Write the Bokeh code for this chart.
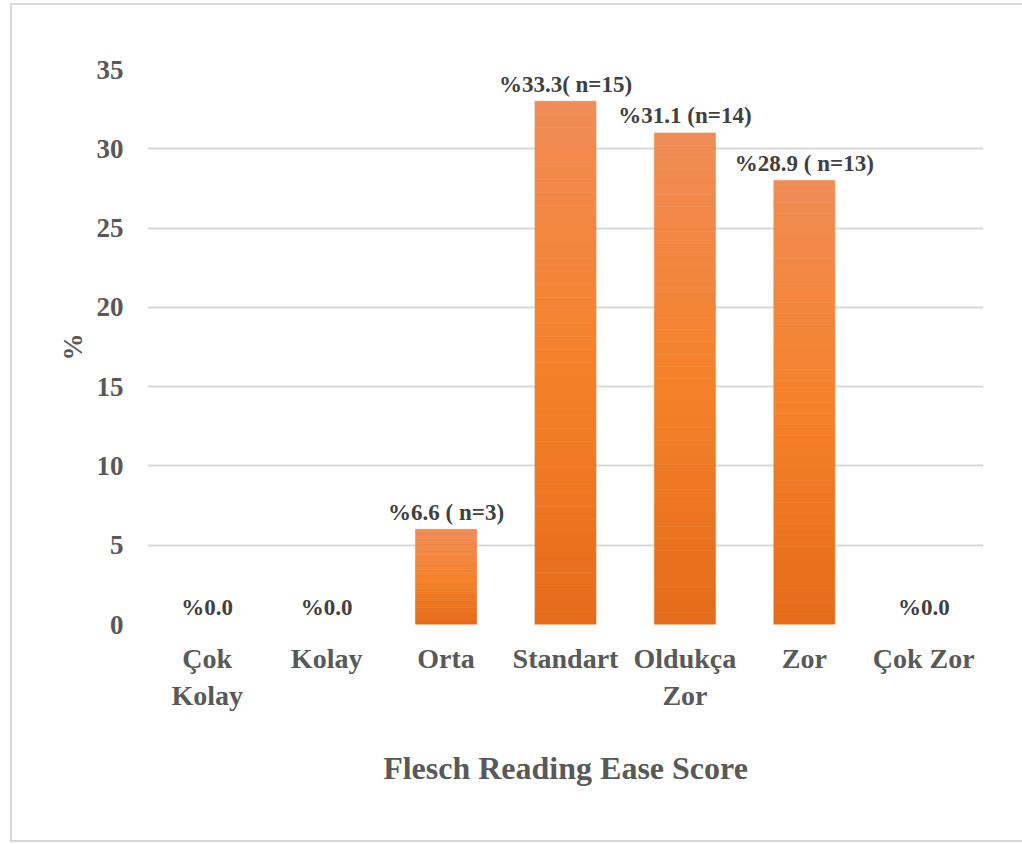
import numpy as np
from bokeh.plotting import figure
from bokeh.models import Range1d, FixedTicker, ColumnDataSource
from bokeh.core.properties import value
from bokeh.embed import file_html
from bokeh.resources import INLINE

categories = ["Çok Kolay", "Kolay", "Orta", "Standart", "Oldukça Zor", "Zor", "Çok Zor"]
tick_labels = ["Çok\nKolay", "Kolay", "Orta", "Standart", "Oldukça\nZor", "Zor", "Çok Zor"]
percent_values = [0, 0, 6, 33, 31, 28, 0]
bar_labels = ["%0.0", "%0.0", "%6.6 ( n=3)", "%33.3( n=15)", "%31.1 (n=14)", "%28.9 ( n=13)", "%0.0"]
y_ticks = [0, 5, 10, 15, 20, 25, 30, 35]

FONT = "Liberation Serif"
x_pos = list(range(len(categories)))

p = figure(width=1012, height=839, output_backend="svg", toolbar_location=None,
           x_range=Range1d(-0.5, len(categories) - 0.5), y_range=Range1d(0, 35),
           min_border_left=135, min_border_right=41, min_border_top=64, min_border_bottom=220,
           outline_line_color=None, background_fill_color="white", border_fill_color="white")
p.margin = (3, 0, 0, 10)
p.styles = {"border-left": "2px solid #D9D9D9", "border-top": "2px solid #D9D9D9",
            "border-bottom": "2px solid #D9D9D9", "box-sizing": "border-box"}

# gradient bars built from slices of each value
n_slices = 40
fr = np.linspace(0, 1, n_slices + 1)
c_top = np.array([0xF0, 0x8C, 0x56])
c_mid = np.array([0xF5, 0x82, 0x2A])
c_bot = np.array([0xE4, 0x6B, 0x1A])
def grad(f):
    if f >= 0.5:
        t = (f - 0.5) / 0.5
        c = c_mid + (c_top - c_mid) * t
    else:
        t = f / 0.5
        c = c_bot + (c_mid - c_bot) * t
    return "#%02x%02x%02x" % tuple(int(round(v)) for v in c)

L, R, B, T, C = [], [], [], [], []
for x, v in zip(x_pos, percent_values):
    if v <= 0:
        continue
    for i in range(n_slices):
        L.append(x - 0.255); R.append(x + 0.255)
        B.append(v * fr[i]); T.append(v * fr[i + 1])
        C.append(grad((fr[i] + fr[i + 1]) / 2))

# soft shadow
sh = ColumnDataSource(dict(l=[x - 0.262 for x, v in zip(x_pos, percent_values) if v > 0],
                           r=[x + 0.262 for x, v in zip(x_pos, percent_values) if v > 0],
                           t=[v for v in percent_values if v > 0]))
p.quad(left="l", right="r", bottom=0, top="t", source=sh, fill_color="#000000", fill_alpha=0.06, line_color=None)
p.quad(left=L, right=R, bottom=B, top=T, fill_color=C, line_color=C, line_width=0.6)

src = ColumnDataSource(dict(x=x_pos, y=percent_values, t=bar_labels))
p.text(x="x", y="y", text="t", source=src, text_align="center", text_baseline="alphabetic",
       y_offset=-17, text_font=value(FONT), text_font_style="bold", text_font_size="23px",
       text_color="#404040")

p.xgrid.grid_line_color = None
p.ygrid.grid_line_color = "#D9D9D9"
p.ygrid.grid_line_width = 2
p.yaxis.ticker = FixedTicker(ticks=y_ticks)
p.xaxis.ticker = FixedTicker(ticks=x_pos)
p.xaxis.major_label_overrides = {i: s for i, s in enumerate(tick_labels)}

for ax in (p.xaxis[0], p.yaxis[0]):
    ax.axis_line_color = None
    ax.major_tick_line_color = None
    ax.minor_tick_line_color = None
    ax.major_tick_in = 0
    ax.major_tick_out = 0
    ax.major_label_text_font = FONT
    ax.major_label_text_font_style = "bold"
    ax.major_label_text_color = "#595959"
    ax.axis_label_text_font = FONT
    ax.axis_label_text_font_style = "bold"
    ax.axis_label_text_color = "#595959"

p.xaxis.major_label_text_font_size = "28px"
p.xaxis.major_label_standoff = 18
p.xaxis.axis_label = "Flesch Reading Ease Score"
p.xaxis.axis_label_text_font_size = "32px"
p.xaxis.axis_label_standoff = 36

p.yaxis.major_label_text_font_size = "27px"
p.yaxis.major_label_standoff = 24
p.yaxis.axis_label = "%"
p.yaxis.axis_label_text_font_size = "27px"
p.yaxis.axis_label_standoff = 6

open("out.html", "w").write(file_html(p, INLINE))
